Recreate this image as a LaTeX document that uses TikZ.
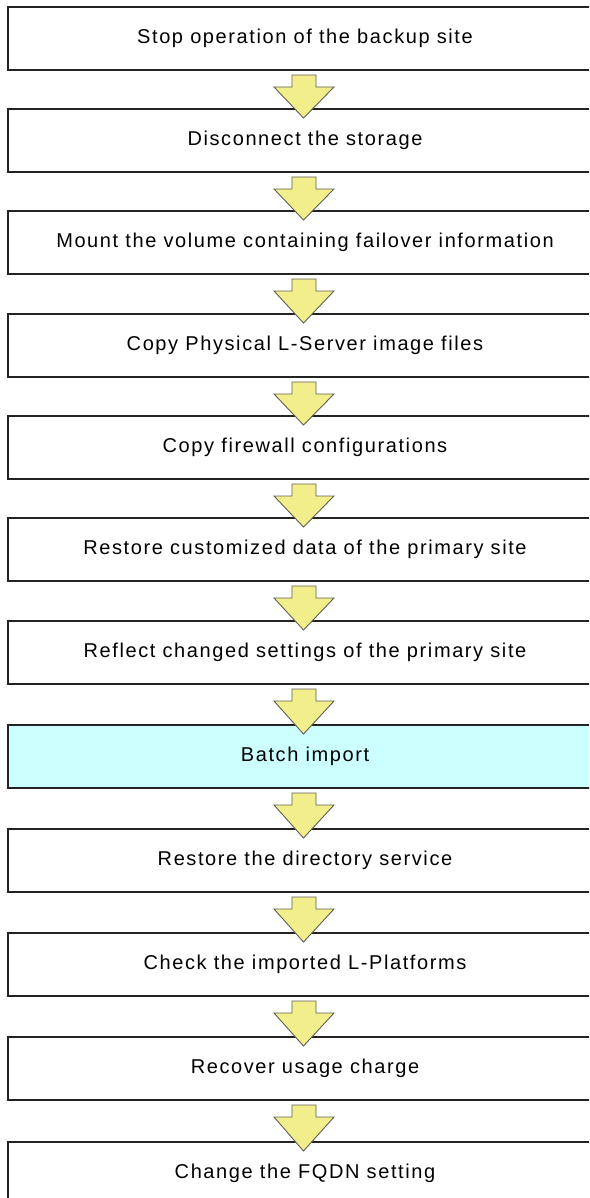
\documentclass[tikz,border=0pt]{standalone}
\usepackage{fontspec}
\setmainfont{Liberation Sans}[LetterSpace=8]
\usetikzlibrary{calc}
\definecolor{boxline}{RGB}{35,35,35}
\definecolor{arrowfill}{RGB}{242,238,140}
\definecolor{arrowline}{RGB}{95,95,85}
\definecolor{hilite}{RGB}{204,255,255}
\tikzset{
  stepbox/.style={draw=boxline, line width=1.8pt, fill=white, minimum width=594pt,
    minimum height=63pt, inner sep=0pt, outer sep=0pt, anchor=north,
    font=\fontsize{20}{24}\selectfont},
  hlbox/.style={stepbox, fill=hilite},
  flowarrow/.style={draw=arrowline, line width=0.9pt, fill=arrowfill, line join=miter}
}
\newcommand{\flowarrow}[2]{%
  \draw[flowarrow] ($(#1.south)+(-13,5)$) -- ++(24,0) -- ++(0,12) -- ++(18,0)
    -- ($(#2.north)+(-1.5,9)$) -- ($(#1.south)+(-31,17)$) -- ++(18,0) -- cycle;}
\begin{document}
\begin{tikzpicture}[x=1pt,y=-1pt]
\useasboundingbox (0,0) rectangle (589,1198);
\clip (0,0) rectangle (589,1198);
\node[stepbox] (b1) at (305,7) {Stop operation of the backup site};
\node[stepbox] (b2) at (305,109) {Disconnect the storage};
\node[stepbox] (b3) at (305,211) {Mount the volume containing failover information};
\node[stepbox] (b4) at (305,314) {Copy Physical L-Server image files};
\node[stepbox] (b5) at (305,416) {Copy firewall configurations};
\node[stepbox] (b6) at (305,518) {Restore customized data of the primary site};
\node[stepbox] (b7) at (305,621) {Reflect changed settings of the primary site};
\node[hlbox]   (b8) at (305,725) {Batch import};
\node[stepbox] (b9) at (305,829) {Restore the directory service};
\node[stepbox] (b10) at (305,933) {Check the imported L-Platforms};
\node[stepbox] (b11) at (305,1037) {Recover usage charge};
\node[stepbox] (b12) at (305,1142) {Change the FQDN setting};
\flowarrow{b1}{b2}
\flowarrow{b2}{b3}
\flowarrow{b3}{b4}
\flowarrow{b4}{b5}
\flowarrow{b5}{b6}
\flowarrow{b6}{b7}
\flowarrow{b7}{b8}
\flowarrow{b8}{b9}
\flowarrow{b9}{b10}
\flowarrow{b10}{b11}
\flowarrow{b11}{b12}
\end{tikzpicture}
\end{document}
